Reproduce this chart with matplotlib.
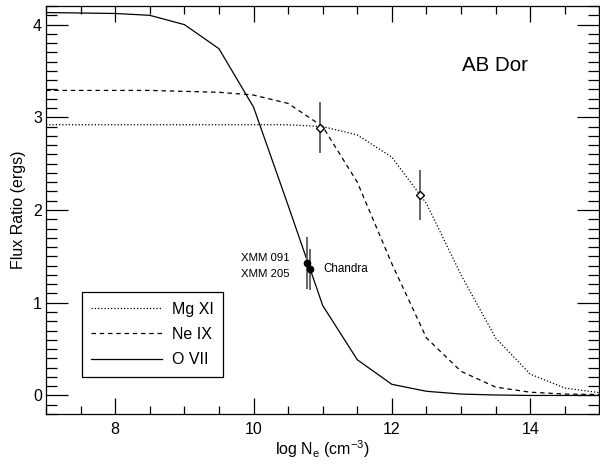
import matplotlib

matplotlib.use("Agg")

import matplotlib.pyplot as plt
from matplotlib.ticker import MultipleLocator

plt.rcParams["font.family"] = ["Liberation Sans", "DejaVu Sans"]
plt.rcParams["mathtext.default"] = "regular"

# model curves: density grid and flux ratio per ion
log_ne = [7.0, 8.0, 8.5, 9.0, 9.5, 10.0, 10.5, 11.0, 11.5, 12.0, 12.5, 13.0, 13.5, 14.0, 14.5, 15.0]
mg_xi = [2.92, 2.92, 2.92, 2.92, 2.92, 2.92, 2.92, 2.90, 2.81, 2.57, 2.07, 1.30, 0.62, 0.23, 0.08, 0.03]
ne_ix = [3.29, 3.29, 3.29, 3.28, 3.27, 3.24, 3.15, 2.90, 2.30, 1.42, 0.62, 0.26, 0.09, 0.035, 0.015, 0.01]
o_vii = [4.13, 4.12, 4.10, 4.00, 3.74, 3.11, 2.05, 0.97, 0.385, 0.12, 0.045, 0.015, 0.005, 0.0, 0.0, 0.0]

# measured ratios
meas_x = [12.41, 10.96]
meas_y = [2.16, 2.89]
meas_err = [0.27, 0.27]

xmm_x = [10.77, 10.815]
xmm_y = [1.43, 1.36]
xmm_err = [0.28, 0.22]

fig = plt.figure(figsize=(6.0, 4.66), dpi=100)
ax = fig.add_axes([0.0767, 0.1116, 0.9223, 0.8754])

ax.plot(log_ne, mg_xi, color="black", lw=0.9, linestyle=(0, (1, 1.6)), label="Mg XI")
ax.plot(log_ne, ne_ix, color="black", lw=0.9, linestyle=(0, (3.6, 3.0)), label="Ne IX")
ax.plot(log_ne, o_vii, color="black", lw=0.9, label="O VII")

ax.errorbar(meas_x, meas_y, yerr=meas_err, fmt="D", ms=4, mfc="white", mec="black",
            mew=1.0, ecolor="0.4", elinewidth=1.4, capsize=0, zorder=5)
ax.errorbar(xmm_x, xmm_y, yerr=xmm_err, fmt="o", ms=4.5, mfc="black", mec="black",
            ecolor="0.4", elinewidth=1.4, capsize=0, zorder=5)

ax.text(10.526, 1.486, "XMM 091", fontsize=8.2, ha="right", va="center")
ax.text(10.526, 1.307, "XMM 205", fontsize=8.2, ha="right", va="center")
ax.text(11.003, 1.368, "Chandra", fontsize=8.4, ha="left", va="center")
ax.text(0.811, 0.855, "AB Dor", fontsize=14.8, ha="center", va="center", transform=ax.transAxes)

ax.set_xlim(7, 15)
ax.set_ylim(-0.2, 4.2)
ax.xaxis.set_major_locator(MultipleLocator(2))
ax.xaxis.set_minor_locator(MultipleLocator(0.5))
ax.yaxis.set_major_locator(MultipleLocator(1))
ax.yaxis.set_minor_locator(MultipleLocator(0.1))

ax.tick_params(axis="both", which="both", direction="in", top=True, right=True,
               labelsize=11.5, width=0.9)
ax.tick_params(axis="x", which="major", length=11.5, pad=6)
ax.tick_params(axis="x", which="minor", length=5.8)
ax.tick_params(axis="y", which="major", length=15.5, pad=3)
ax.tick_params(axis="y", which="minor", length=7.6)
for s in ax.spines.values():
    s.set_linewidth(0.9)

ax.set_xlabel("log N$_e$ (cm$^{-3}$)", fontsize=11.5, labelpad=1)
ax.set_ylabel("Flux Ratio (ergs)", fontsize=11.5, labelpad=5)

leg = ax.legend(loc="lower left", bbox_to_anchor=(0.0645, 0.0907), borderaxespad=0,
                fontsize=11.5, handlelength=4.4, handletextpad=0.63, labelspacing=0.65,
                borderpad=0.6, fancybox=False, framealpha=1, edgecolor="black")
leg.get_frame().set_linewidth(0.9)

fig.savefig("out.png", dpi=100)
plt.close(fig)
